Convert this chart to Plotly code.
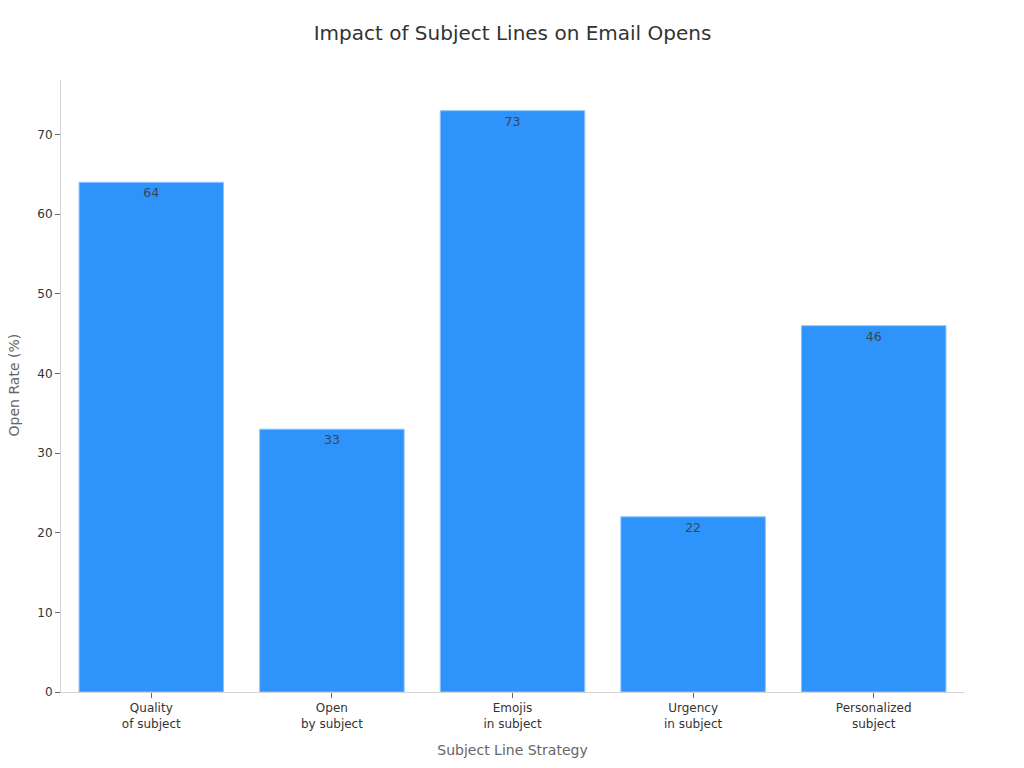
import plotly.graph_objects as go

# Values
categories = ["Quality<br>of subject", "Open<br>by subject", "Emojis<br>in subject", "Urgency<br>in subject", "Personalized<br>subject"]
open_rates = [64, 33, 73, 22, 46]

fig = go.Figure(
    go.Bar(
        x=categories,
        y=open_rates,
        text=open_rates,
        textposition="inside",
        insidetextanchor="end",
        textangle=0,
        textfont=dict(size=12.5, color="#3a4654"),
        marker=dict(color="#2e93fa", line=dict(color="#8cc4fc", width=1)),
        width=0.8,
    )
)

fig.update_layout(
    title=dict(text="Impact of Subject Lines on Email Opens", x=0.5005, xref="container", xanchor="center",
               y=0.957, yanchor="middle", font=dict(size=20, color="#333333")),
    font=dict(family="DejaVu Sans", size=12, color="#333333"),
    plot_bgcolor="white",
    paper_bgcolor="white",
    width=1024,
    height=768,
    margin=dict(l=61, r=60, t=80, b=76),
    showlegend=False,
    xaxis=dict(
        title=dict(text="Subject Line Strategy", font=dict(size=14, color="#666666")),
        automargin=False,
        showline=True, linecolor="#d4d4d4", linewidth=1,
        showgrid=False, ticks="outside", ticklen=5, tickcolor="#666666",
        tickfont=dict(size=12, color="#333333"),
    ),
    yaxis=dict(
        automargin=False,
        range=[0, 76.85],
        tickvals=[0, 10, 20, 30, 40, 50, 60, 70],
        showline=True, linecolor="#d4d4d4", linewidth=1,
        showgrid=False, zeroline=False, ticks="outside", ticklen=5, tickcolor="#666666",
        tickfont=dict(size=12, color="#333333"),
    ),
    annotations=[
        dict(text="Open Rate (%)", xref="paper", yref="paper", x=-0.052, y=0.501,
             textangle=-90, showarrow=False, xanchor="center", yanchor="middle",
             font=dict(size=14, color="#666666")),
    ],
)

# Drop the default body margin so the figure fills the window
fig.write_html("out.html", config={"displayModeBar": False},
               post_script="document.body.style.margin = '0';")
